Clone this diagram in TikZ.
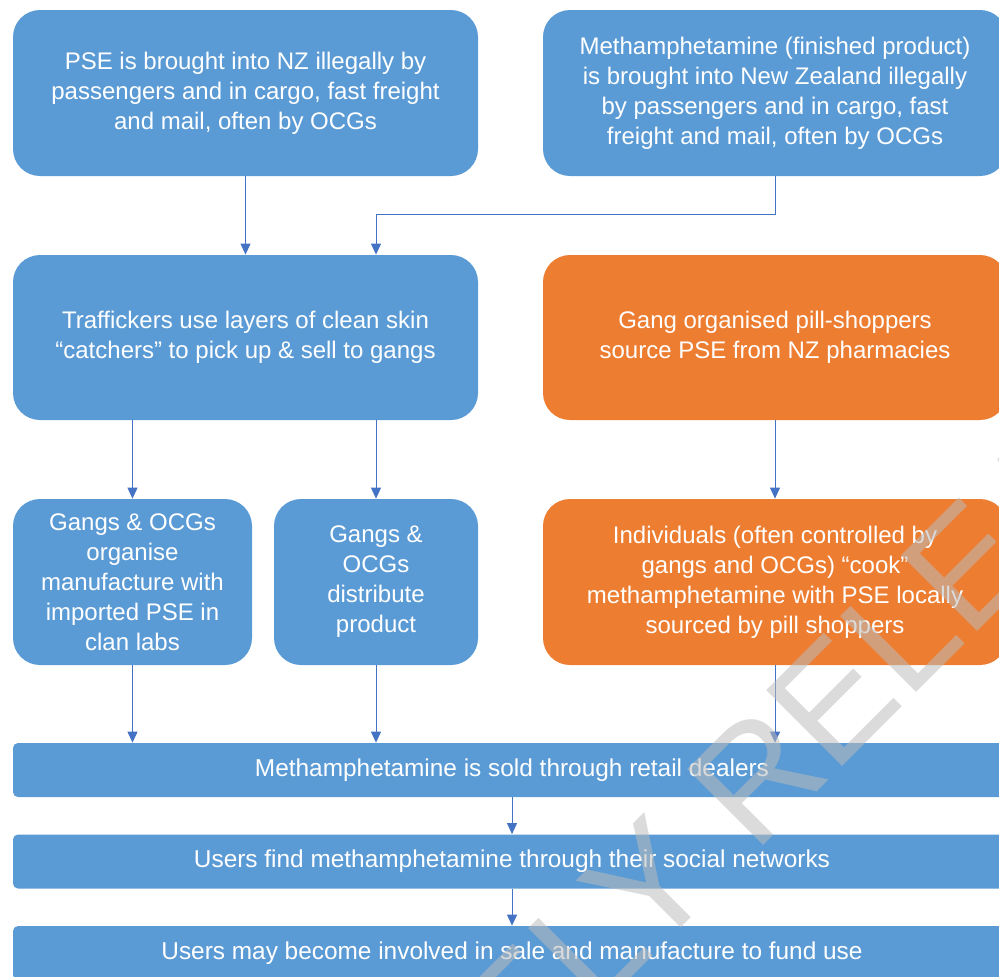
\documentclass[tikz,border=0pt]{standalone}
\usepackage{fontspec}
\setmainfont{Liberation Sans}
\usetikzlibrary{arrows.meta}

\definecolor{boxblue}{RGB}{91,155,213}
\definecolor{boxorange}{RGB}{237,125,49}
\definecolor{arrowblue}{RGB}{68,114,196}
\definecolor{markgray}{RGB}{188,188,188}

\tikzset{
  flowbox/.style={rounded corners=13.5pt, fill=boxblue, text=white, align=center,
    font=\fontsize{12}{15}\selectfont, inner sep=0pt},
  localbox/.style={flowbox, fill=boxorange},
  flowbar/.style={flowbox, rounded corners=2.5pt, minimum width=499pt, minimum height=27pt,
    font=\fontsize{12.2}{15}\selectfont},
  flowarrow/.style={arrowblue, line width=0.5pt, -{Triangle[width=5pt,length=5.5pt]}},
  watermark/.style={text=markgray, opacity=0.54, font=\fontsize{78}{78}\selectfont,
    rotate=45, inner sep=0pt},
}

\begin{document}
\begin{tikzpicture}[x=0.5pt, y=-0.5pt]
  \clip (0,0) rectangle (999,976);

  % Sources
  \node[flowbox, minimum width=232.5pt, minimum height=83pt] (pse) at (245.5,93)
    {PSE is brought into NZ illegally by\\passengers and in cargo, fast freight\\and mail, often by OCGs};
  \node[flowbox, minimum width=232pt, minimum height=83pt] (meth) at (775,93)
    {Methamphetamine (finished product)\\is brought into New Zealand illegally\\by passengers and in cargo, fast\\freight and mail, often by OCGs};

  % Second row
  \node[flowbox, minimum width=232.5pt, minimum height=82.5pt] (traffic) at (245.5,337.5)
    {Traffickers use layers of clean skin\\``catchers'' to pick up \& sell to gangs};
  \node[localbox, minimum width=232pt, minimum height=82.5pt] (pills) at (775,337.5)
    {Gang organised pill-shoppers\\source PSE from NZ pharmacies};

  % Third row
  \node[flowbox, minimum width=119.5pt, minimum height=83pt] (labs) at (132.5,582)
    {Gangs \& OCGs\\organise\\manufacture with\\imported PSE in\\clan labs};
  \node[flowbox, minimum width=102pt, minimum height=83pt] (distrib) at (376,582)
    {Gangs \&\\OCGs\\distribute\\product};
  \node[localbox, minimum width=232pt, minimum height=83pt] (cook) at (775,582)
    {Individuals (often controlled by\\gangs and OCGs) ``cook''\\methamphetamine with PSE locally\\sourced by pill shoppers};

  % Bars
  \node[flowbar] (retail) at (512,770) {Methamphetamine is sold through retail dealers};
  \node[flowbar] (users) at (512,861.5) {Users find methamphetamine through their social networks};
  \node[flowbar] (fund) at (512,953) {Users may become involved in sale and manufacture to fund use};

  % Arrows
  \coordinate (bend) at (775,214);
  \draw[flowarrow] (pse.south) -- (pse.south |- traffic.north);
  \draw[flowarrow] (meth.south) -- (bend) -- (bend -| distrib) -- (distrib |- traffic.north);
  \draw[flowarrow] (labs |- traffic.south) -- (labs.north);
  \draw[flowarrow] (distrib |- traffic.south) -- (distrib.north);
  \draw[flowarrow] (pills.south) -- (cook.north);
  \draw[flowarrow] (labs.south) -- (labs |- retail.north);
  \draw[flowarrow] (distrib.south) -- (distrib |- retail.north);
  \draw[flowarrow] (cook.south) -- (cook |- retail.north);
  \draw[flowarrow] (retail.south) -- (users.north);
  \draw[flowarrow] (users.south) -- (fund.north);

  % Watermark
  \node[watermark, anchor=base east] (markleft) at (723,886) {PROACTIVELY};
  \node[watermark, anchor=base west] (markright) at (754,855) {RELEASED};
\end{tikzpicture}
\end{document}
